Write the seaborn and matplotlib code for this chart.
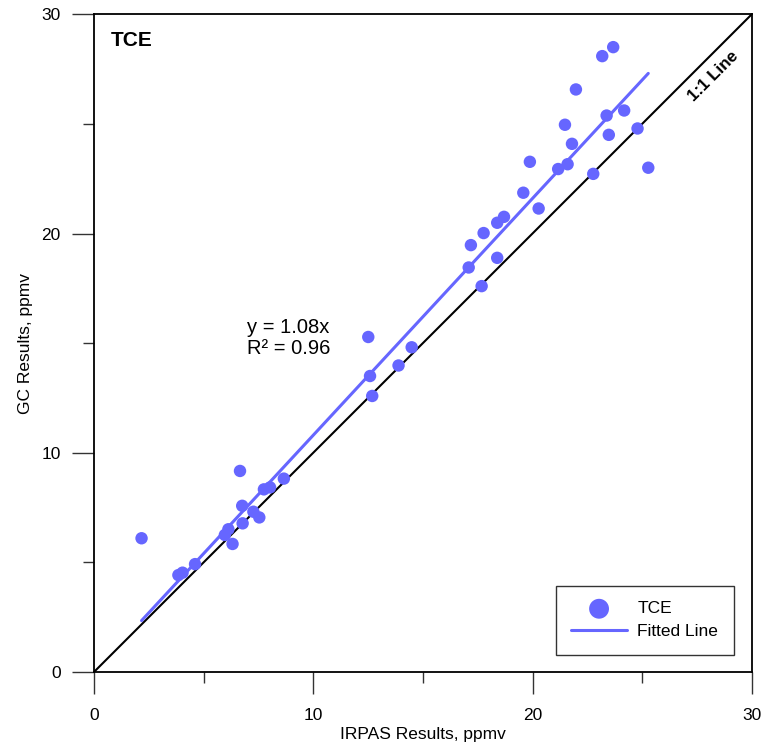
import numpy as np
import pandas as pd
import matplotlib
matplotlib.use("Agg")
import matplotlib.pyplot as plt
import seaborn as sns

# IRPAS vs GC results for TCE (ppmv)
irpas = [2.17, 3.85, 4.04, 4.61, 6.66, 5.97, 6.13, 6.32, 6.78, 6.76, 7.27, 7.54,
         7.75, 8.03, 8.66,
         12.51, 14.49, 13.89, 12.59, 12.69,
         23.68, 23.18, 21.98, 24.18, 23.38, 21.48, 24.79, 23.48, 21.80, 25.28,
         21.60, 21.17, 22.77, 19.88, 19.58, 20.28, 18.70, 18.39, 17.77, 17.19,
         17.09, 18.39, 17.68]
gc = [6.10, 4.42, 4.53, 4.92, 9.17, 6.25, 6.51, 5.84, 6.78, 7.58, 7.31, 7.05,
      8.33, 8.42, 8.82,
      15.28, 14.81, 13.98, 13.50, 12.59,
      28.50, 28.09, 26.57, 25.61, 25.38, 24.96, 24.79, 24.50, 24.09, 23.00,
      23.16, 22.94, 22.72, 23.27, 21.86, 21.14, 20.76, 20.49, 20.02, 19.47,
      18.45, 18.89, 17.60]
slope = 1.08
r2 = 0.96

df = pd.DataFrame({"IRPAS": irpas, "GC": gc})
fit_x = np.array([min(irpas), max(irpas)])
fit = pd.DataFrame({"x": fit_x, "y": slope * fit_x})
one = pd.DataFrame({"x": [0, 30], "y": [0, 30]})

sns.set_style("white")
plt.rcParams['font.family'] = ['Liberation Sans', 'DejaVu Sans']
plt.rcParams['text.color'] = 'black'
plt.rcParams['axes.labelcolor'] = 'black'
plt.rcParams['xtick.color'] = '#333333'
plt.rcParams['ytick.color'] = '#333333'
plt.rcParams['xtick.labelcolor'] = 'black'
plt.rcParams['ytick.labelcolor'] = 'black'

blue = "#6666ff"
fig = plt.figure(figsize=(7.64, 7.5), dpi=100)
ax = fig.add_axes([0.123, 0.104, 0.861, 0.877])

sns.lineplot(data=one, x="x", y="y", color="black", linewidth=1.5, ax=ax)
sns.lineplot(data=fit, x="x", y="y", color=blue, linewidth=2.2, ax=ax, label="Fitted Line")
sns.scatterplot(data=df, x="IRPAS", y="GC", color=blue, s=80, edgecolor="none",
                ax=ax, label="TCE", zorder=3)

ax.set_xlim(0, 30)
ax.set_ylim(0, 30)
ax.set_xticks([0, 10, 20, 30])
ax.set_yticks([0, 10, 20, 30])
ax.set_xticks([5, 15, 25], minor=True)
ax.set_yticks([5, 15, 25], minor=True)
ax.tick_params(which="both", direction="out", width=1, labelsize=12.5,
               bottom=True, left=True, top=False, right=False)
ax.tick_params(which="major", length=16)
ax.tick_params(which="minor", length=8)
ax.tick_params(axis="x", which="major", pad=10)
ax.tick_params(axis="y", which="major", pad=8)
for s in ax.spines.values():
    s.set_color("black")
    s.set_linewidth(1.3)

ax.set_xlabel("IRPAS Results, ppmv", fontsize=12.5, labelpad=3)
ax.set_ylabel("GC Results, ppmv", fontsize=12.5, labelpad=6)

ax.text(0.78, 28.8, "TCE", fontsize=15, fontweight="bold", va="center")
ax.text(7.0, 15.23, f"y = {slope:.2f}x\nR\u00b2 = {r2:.2f}", fontsize=14.5,
        va="center", ha="left", linespacing=1.1)
ax.text(28.27, 27.18, "1:1 Line", fontsize=12.2, fontweight="bold", rotation=45,
        ha="center", va="center", rotation_mode="anchor")

h, l = ax.get_legend_handles_labels()
order = [l.index("TCE"), l.index("Fitted Line")]
leg = ax.legend([h[i] for i in order], [l[i] for i in order], loc="lower right",
                bbox_to_anchor=(0.9726, 0.026), fontsize=12.5, frameon=True,
                fancybox=False, edgecolor="black", markerscale=1.6,
                handlelength=3.2, borderpad=0.9, labelspacing=0.45,
                handletextpad=0.6, borderaxespad=0)
leg.get_frame().set_linewidth(1.0)

fig.savefig("out.png", dpi=100)
